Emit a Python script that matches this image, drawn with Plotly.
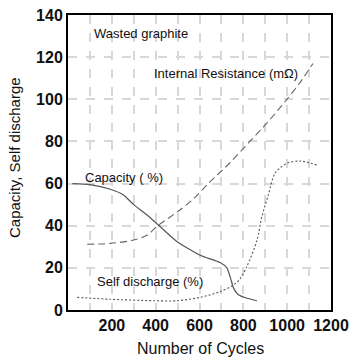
import plotly.graph_objects as go

# Capacity (%)
cap_x = [20, 100, 193, 253, 300, 362, 421, 498, 603, 694, 725, 742, 755, 775, 810, 862]
cap_y = [60, 59.5, 57.3, 54.6, 50, 45, 39.5, 32.4, 26, 22.5, 20, 15, 10.5, 7.5, 5.8, 4.4]

# Internal resistance (mOhm)
ir_x = [87, 193, 300, 362, 410, 498, 570, 640, 740, 830, 910, 999, 1059, 1118]
ir_y = [31.2, 31.6, 33.2, 35.6, 40, 46.5, 52.5, 60, 70, 80, 89, 100, 108, 117]

# Self discharge (%)
sd_x = [42, 193, 390, 498, 603, 694, 755, 785, 816, 862, 884, 915, 945, 998, 1059, 1135]
sd_y = [6, 5.1, 4.4, 4.4, 6, 8.7, 11.9, 14.8, 20.6, 33, 44, 55, 65, 69.6, 70.7, 68.8]

x_tickvals = [100, 200, 300, 400, 500, 600, 700, 800, 900, 1000, 1100, 1200]
x_ticktext = ["", "200", "", "400", "", "600", "", "800", "", "1000", "", "1200"]
y_tickvals = [0, 20, 40, 60, 80, 100, 120, 140]

FONT = "Liberation Sans, Arial, sans-serif"

# plot area in pixels: left 68, right 331, top 15, bottom 310
PL, PR, PT, PB = 68, 331, 15, 310


def px2paper(px, py):
    return (px - PL) / (PR - PL), (PB - py) / (PB - PT)


fig = go.Figure()
fig.add_trace(go.Scatter(x=cap_x, y=cap_y, mode="lines", line=dict(color="#555555", width=1.2, shape="spline", smoothing=0.6), name="Capacity"))
fig.add_trace(go.Scatter(x=ir_x, y=ir_y, mode="lines", line=dict(color="#666666", width=1.1, dash="7px,4px", shape="spline", smoothing=0.8), name="Internal Resistance"))
fig.add_trace(go.Scatter(x=sd_x, y=sd_y, mode="lines", line=dict(color="#555555", width=1.1, dash="2px,2px", shape="spline", smoothing=0.8), name="Self discharge"))

annots = [
    ("Wasted graphite", 92, 33),
    ("Internal Resistance (m\u03a9)", 152, 74),
    ("Capacity ( %)", 83, 177),
    ("Self discharge (%)", 95, 281),
]
for text, px, py in annots:
    ax, ay = px2paper(px, py)
    fig.add_annotation(text=text, xref="paper", yref="paper", x=ax, y=ay,
                       xanchor="left", yanchor="middle", showarrow=False,
                       font=dict(family=FONT, size=13, color="#111111"))

# axis titles
tx, ty = px2paper(200, 348)
fig.add_annotation(text="Number of Cycles", xref="paper", yref="paper", x=tx, y=ty,
                   xanchor="center", yanchor="middle", showarrow=False,
                   font=dict(family=FONT, size=16, color="#111111"))
tx, ty = px2paper(14, 158)
fig.add_annotation(text="Capacity, Self discharge", xref="paper", yref="paper", x=tx, y=ty,
                   xanchor="center", yanchor="middle", showarrow=False, textangle=-90,
                   font=dict(family=FONT, size=15, color="#111111"))

fig.update_layout(
    width=356, height=360,
    margin=dict(l=PL, r=356 - PR, t=PT, b=360 - PB),
    paper_bgcolor="white", plot_bgcolor="white",
    showlegend=False,
    font=dict(family=FONT, color="#111111"),
)
fig.update_xaxes(
    range=[0, 1200], tickvals=x_tickvals, ticktext=x_ticktext,
    tickfont=dict(family=FONT, size=16, color="#111111", weight="bold"),
    showgrid=True, gridcolor="#d8d8d8", gridwidth=1.5, griddash="dash",
    showline=True, linecolor="black", linewidth=2, mirror=True,
    ticks="", zeroline=False, automargin=False,
)
fig.update_yaxes(
    range=[0, 140], tickvals=y_tickvals,
    tickfont=dict(family=FONT, size=16, color="#111111", weight="bold"),
    showgrid=True, gridcolor="#d8d8d8", gridwidth=1.5, griddash="dash",
    showline=True, linecolor="black", linewidth=2, mirror=True,
    ticks="", zeroline=False, automargin=False,
)

fig.write_html("out.html", config={"displayModeBar": False},
               post_script="document.body.style.margin='0';document.body.style.overflow='hidden';")
